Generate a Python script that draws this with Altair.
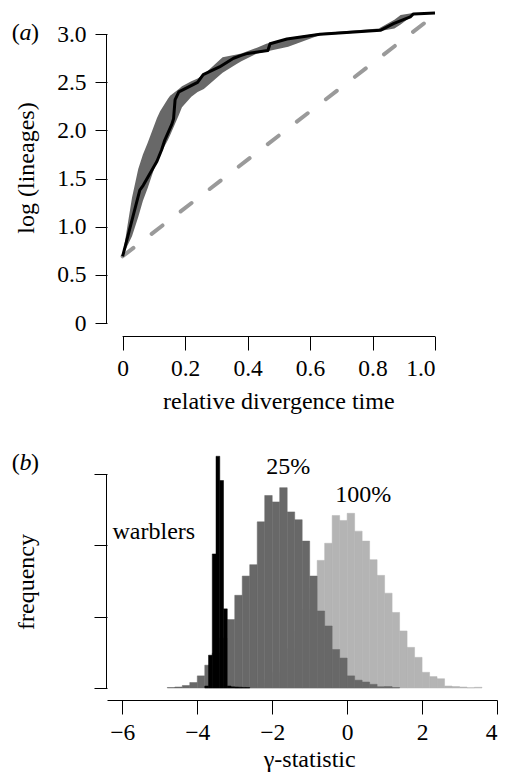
import altair as alt
import pandas as pd

FONT = "Liberation Serif"
FS = 24        # titles / annotations
FS_TICK = 23.5 # tick labels

# ---------------- Panel (a): lineage-through-time ----------------
obs_t = [0.0, 0.055, 0.066, 0.11, 0.125, 0.135, 0.157, 0.163, 0.168, 0.18, 0.24, 0.258,
         0.31, 0.355, 0.38, 0.40, 0.465, 0.472, 0.526, 0.632, 0.825, 0.867, 0.921, 0.931, 1.0]
obs_v = [0.693, 1.38, 1.43, 1.68, 1.80, 1.90, 2.06, 2.12, 2.32, 2.40, 2.50, 2.58,
         2.66, 2.75, 2.78, 2.80, 2.83, 2.90, 2.95, 3.00, 3.04, 3.11, 3.18, 3.21, 3.22]

band_t = [0.0, 0.015, 0.03, 0.05, 0.065, 0.08, 0.11, 0.12, 0.145, 0.152, 0.18, 0.19, 0.22,
          0.24, 0.26, 0.32, 0.365, 0.38, 0.43, 0.46, 0.53, 0.63, 0.82, 0.87, 0.89, 0.93]
band_hi = [0.69, 1.0, 1.3, 1.6, 1.75, 1.87, 2.13, 2.2, 2.33, 2.36, 2.43, 2.46, 2.51,
           2.54, 2.58, 2.76, 2.79, 2.80, 2.86, 2.90, 2.96, 3.01, 3.06, 3.15, 3.20, 3.22]
band_lo = [0.69, 0.8, 0.9, 1.1, 1.27, 1.4, 1.69, 1.75, 1.90, 1.95, 2.16, 2.24, 2.35,
           2.40, 2.43, 2.60, 2.69, 2.72, 2.80, 2.82, 2.87, 2.99, 3.03, 3.06, 3.10, 3.20]

exp_t = [0.0, 1.0]
exp_v = [0.693, 3.20]

a_xticks = [0, 0.2, 0.4, 0.6, 0.8, 1.0]
a_yticks = [0, 0.5, 1.0, 1.5, 2.0, 2.5, 3.0]

# ---------------- Panel (b): gamma-statistic histograms ----------------
p25_start = [-4.8, -4.6, -4.4, -4.2, -4.0, -3.8, -3.6, -3.4, -3.2, -3.0, -2.8, -2.6, -2.4,
             -2.2, -2.0, -1.8, -1.6, -1.4, -1.2, -1.0, -0.8, -0.6, -0.4, -0.2, 0.0, 0.2,
             0.4, 0.6, 0.8, 1.0, 1.2]
p25_freq = [0.7, 1.4, 3.5, 7.7, 17, 32, 49, 70, 96, 130, 157, 173, 233,
            270, 261, 281, 247, 236, 206, 157, 108, 87, 54, 42, 17, 11,
            8.4, 5.2, 1.8, 2.1, 0.7]

p100_start = [-3.0, -2.8, -2.6, -2.4, -2.2, -2.0, -1.8, -1.6, -1.4, -1.2, -1.0, -0.8, -0.6,
              -0.4, -0.2, 0.0, 0.2, 0.4, 0.6, 0.8, 1.0, 1.2, 1.4, 1.6, 1.8, 2.0, 2.2,
              2.4, 2.6, 2.8, 3.0, 3.2, 3.4]
p100_freq = [0.5, 1.2, 3, 6, 12, 22, 36, 55, 80, 110, 140, 179, 203,
             242, 235, 245, 220, 206, 180, 158, 133, 106, 80, 57, 43, 22, 16,
             13, 2.8, 2.1, 1.4, 0.4, 1.0]

warb_start = [-3.8, -3.7, -3.6, -3.5, -3.4, -3.3, -3.2, -3.1, -3.0, -2.9, -2.8, -2.7]
warb_freq = [2.8, 46, 188, 325, 291, 111, 2.8, 1.7, 1.4, 1.1, 0.8, 0.7]

b_xticks = [-6, -4, -2, 0, 2, 4]
b_yticks = [0, 100, 200, 300]

# ---------------- build tables ----------------
obs_df = pd.DataFrame({"t": obs_t, "v": obs_v})
band_df = pd.DataFrame({"t": band_t, "hi": band_hi, "lo": band_lo})
exp_df = pd.DataFrame({"t": exp_t, "v": exp_v})


def hist_df(starts, freqs, width):
    return pd.DataFrame({"s": starts, "e": [s + width for s in starts], "f": freqs})


p25_df = hist_df(p25_start, p25_freq, 0.2)
p100_df = hist_df(p100_start, p100_freq, 0.2)
warb_df = hist_df(warb_start, warb_freq, 0.1)

one = pd.DataFrame({"k": [0]})
txt = dict(font=FONT, fontSize=FS, color="black")


def anchor(x1, x2, y1, y2):
    # invisible white box that fixes the layout bounds
    return alt.Chart(one).mark_rect(color="white").encode(
        x=alt.value(x1), x2=alt.value(x2), y=alt.value(y1), y2=alt.value(y2))


def label(text, x, y, align="left", baseline="alphabetic", **kw):
    return alt.Chart(one).mark_text(text=text, align=align, baseline=baseline,
                                    **{**txt, **kw}).encode(x=x, y=y)


# ---------------- panel (a) ----------------
W_A, H_A = 328, 310
xa = alt.Scale(domain=[-0.05, 1.0], nice=False, zero=False)
ya = alt.Scale(domain=[0, 3.22], nice=False, zero=False)

lab_a = "datum.value == 0 ? '0' : format(datum.value, '.1f')"

band = alt.Chart(band_df).mark_area(color="#686868", opacity=1).encode(
    x=alt.X("t:Q", scale=xa,
            axis=alt.Axis(values=a_xticks, domain=False, offset=13, tickSize=14,
                          labelPadding=6, labelExpr=lab_a, title=None, grid=False)),
    y=alt.Y("hi:Q", scale=ya,
            axis=alt.Axis(values=a_yticks, domain=False, tickSize=12, labelPadding=9,
                          labelExpr=lab_a, title=None, grid=False)),
    y2="lo:Q",
)

dashed = alt.Chart(exp_df).mark_line(color="#9a9a9a", strokeWidth=4, strokeDash=[13.7, 23],
                                     strokeCap="round", strokeJoin="round").encode(
    x="t:Q", y="v:Q")

obs_line = alt.Chart(obs_df).mark_line(color="black", strokeWidth=3,
                                       strokeJoin="round").encode(x="t:Q", y="v:Q")

xa_rule = alt.Chart(pd.DataFrame({"a": [0.0], "b": [1.0]})).mark_rule(
    color="black", strokeWidth=1).encode(x="a:Q", x2="b:Q", y=alt.value(H_A + 13.5))
ya_rule = alt.Chart(pd.DataFrame({"a": [0.0], "b": [3.0]})).mark_rule(
    color="black", strokeWidth=1).encode(y="a:Q", y2="b:Q", x=alt.value(-0.5))

a_ytitle = label("log (lineages)", alt.value(-80), alt.value(155), align="center",
                 baseline="middle", angle=270)
a_xtitle = label("relative divergence time", alt.datum(0.5), alt.value(396), align="center")
a_p1 = label("(", alt.value(-95.3), alt.value(27))
a_p2 = label("a", alt.value(-87.5), alt.value(27), fontStyle="italic")
a_p3 = label(")", alt.value(-76.0), alt.value(27))

panel_a = alt.layer(
    band, dashed, obs_line, xa_rule, ya_rule,
    anchor(-99, -98, -5, -4), anchor(-99, -98, H_A + 99, H_A + 100),
    a_ytitle, a_xtitle, a_p1, a_p2, a_p3,
).properties(width=W_A, height=H_A)

# ---------------- panel (b) ----------------
W_B, H_B = 390, 236
xb = alt.Scale(domain=[-6.41, 4.0], nice=False, zero=False)
yb = alt.Scale(domain=[0, 331], nice=False, zero=False)

lab_b = "replace(format(datum.value, 'd'), '-', '\u2212')"

h100 = alt.Chart(p100_df).mark_rect(color="#b4b4b4", stroke="#b4b4b4", strokeWidth=0.5).encode(
    x=alt.X("s:Q", scale=xb,
            axis=alt.Axis(values=b_xticks, domain=True, offset=12, tickSize=14,
                          labelPadding=6, labelExpr=lab_b, title=None, grid=False)),
    x2="e:Q",
    y=alt.Y("f:Q", scale=yb,
            axis=alt.Axis(values=b_yticks, domain=False, tickSize=13, labels=False,
                          title=None, grid=False)),
    y2=alt.datum(0),
)
h25 = alt.Chart(p25_df).mark_rect(color="#686868", stroke="#686868", strokeWidth=0.5).encode(
    x="s:Q", x2="e:Q", y="f:Q", y2=alt.datum(0))
hw = alt.Chart(warb_df).mark_rect(color="black", stroke="black", strokeWidth=0.5).encode(
    x="s:Q", x2="e:Q", y="f:Q", y2=alt.datum(0))

yb_rule = alt.Chart(pd.DataFrame({"a": [0.0], "b": [300.0]})).mark_rule(
    color="black", strokeWidth=1).encode(y="a:Q", y2="b:Q", x=alt.value(-0.5))

b_ytitle = label("frequency", alt.value(-80), alt.value(130), align="center",
                 baseline="middle", angle=270)
b_xtitle = label("\u03b3-statistic", alt.datum(-1.0), alt.value(H_B + 79), align="center")
b_p1 = label("(", alt.value(-95.3), alt.value(18))
b_p2 = label("b", alt.value(-87.5), alt.value(18), fontStyle="italic")
b_p3 = label(")", alt.value(-76.0), alt.value(18))

lab_warb = label("warblers", alt.datum(-5.16), alt.datum(219), align="center", baseline="middle")
lab_25 = label("25%", alt.datum(-1.575), alt.datum(310), align="center", baseline="middle")
lab_100 = label("100%", alt.datum(0.43), alt.datum(271), align="center", baseline="middle")

panel_b = alt.layer(
    h100, h25, hw, yb_rule, anchor(-99, -98, 100, 101),
    b_ytitle, b_xtitle, b_p1, b_p2, b_p3, lab_warb, lab_25, lab_100,
).properties(width=W_B, height=H_B)

chart = alt.vconcat(panel_a, panel_b, spacing=28).properties(
    padding={"left": 0, "top": 0, "right": 0, "bottom": 0},
    background="white",
).configure_view(stroke=None).configure_axis(
    labelFont=FONT, labelFontSize=FS_TICK, labelColor="black",
    tickColor="black", tickWidth=1, domainColor="black", domainWidth=1,
)

chart.save("out.html", embed_options={"renderer": "svg", "actions": False})
